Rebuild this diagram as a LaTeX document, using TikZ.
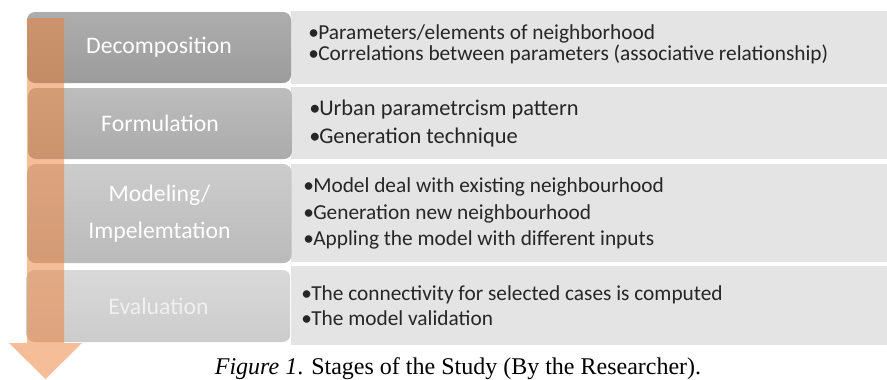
\documentclass[tikz,border=0pt]{standalone}
\usepackage{fontspec}
\setmainfont{Carlito}
\newfontfamily\capfont{Liberation Serif}
\usetikzlibrary{positioning}
\definecolor{arroworange}{HTML}{ED7D31}
\definecolor{panelgray}{HTML}{E4E4E4}
\newcommand\bul{\makebox[7.5pt][l]{\textbullet}}

\begin{document}
\begin{tikzpicture}[
		x=0.75pt, y=-0.75pt,
		stage/.style={
				rounded corners=6pt,
				minimum width=198pt,
				text=white,
				font=\fontsize{17.8}{27.75}\selectfont,
				align=center,
				inner sep=0pt
			},
		panel/.style={
				fill=panelgray,
				minimum width=447pt,
				inner sep=0pt
			},
		items/.style={
				anchor=west,
				align=left,
				inner sep=0pt,
				text=black!85
			}
	]
	\useasboundingbox (0,0) rectangle (887,379);

	% detail panels on the right
	\node[panel, minimum height=54.75pt] (p1) at (589,47.5) {};
	\node[panel, minimum height=54pt] (p2) at (589,123) {};
	\node[panel, minimum height=73.5pt] (p3) at (589,213) {};
	\node[panel, minimum height=59.25pt] (p4) at (589,305.5) {};

	% stage boxes
	\node[stage, top color=black!32, bottom color=black!39, minimum height=53.25pt] (s1) at (159,47.5) {Decomposition};
	\node[stage, top color=black!26, bottom color=black!33, minimum height=53.25pt] (s2) at (160,123.5) {Formulation};
	\node[stage, top color=black!20, bottom color=black!27, minimum height=74.25pt] (s3) at (159.5,213.5) {Modeling/\\Impelemtation};
	\node[stage, top color=black!15, bottom color=black!20, minimum height=54pt, text=white!94!black] (s4) at (158.5,306) {Evaluation};

	% bullet lists
	\node[items, font=\fontsize{16}{15.75}\selectfont] (i1) at (308,44)
		{\bul Parameters/elements of neighborhood\\
		 \bul Correlations between parameters (associative relationship)};
	\node[items, font=\fontsize{16.8}{21}\selectfont] (i2) at (309,123.5)
		{\bul Urban parametrcism pattern\\
		 \bul Generation technique};
	\node[items, font=\fontsize{16}{20}\selectfont] (i3) at (303,213.5)
		{\bul Model deal with existing neighbourhood\\
		 \bul Generation new neighbourhood\\
		 \bul Appling the model with different inputs};
	\node[items, font=\fontsize{16}{19}\selectfont] (i4) at (301,305.5)
		{\bul The connectivity for selected cases is computed\\
		 \bul The model validation};

	% progress arrow
	\fill[arroworange, fill opacity=0.5]
	(27,18) -- (64,18) -- (64,343) -- (82,343) -- (45.5,379)
	-- (9,343) -- (27,343) -- cycle;

	\node[anchor=base, inner sep=0pt, font=\capfont\fontsize{18}{20}\selectfont] (cap) at (458,374.5)
		{\textit{Figure 1}. Stages of the Study (By the Researcher).};
\end{tikzpicture}
\end{document}
